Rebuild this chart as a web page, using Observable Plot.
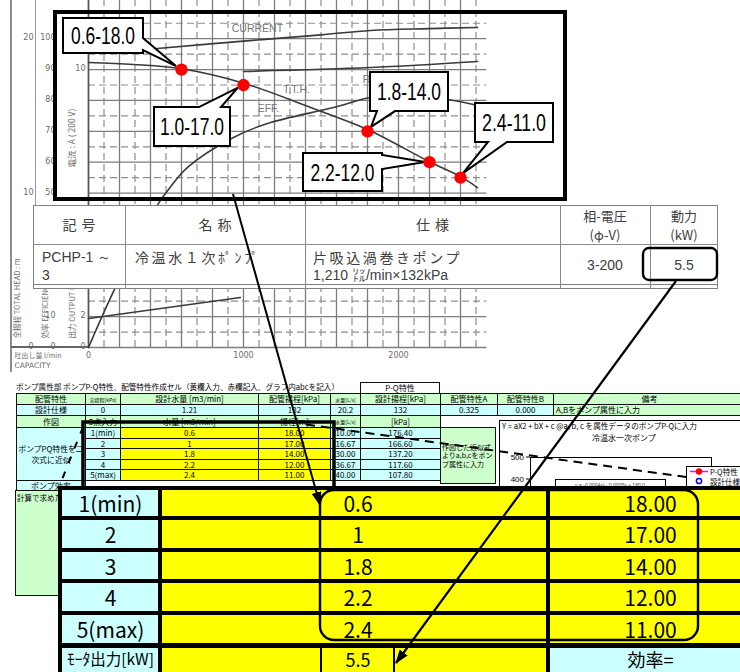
<!DOCTYPE html>
<html lang="ja"><head><meta charset="utf-8">
<script src="https://cdn.jsdelivr.net/npm/d3@7"></script>
<script src="https://cdn.jsdelivr.net/npm/@observablehq/plot@0.6"></script>
<style>
html,body{margin:0;padding:0;background:#fff;}
#root{position:relative;width:740px;height:672px;overflow:hidden;background:#fff;}
.cell{position:absolute;box-sizing:border-box;display:flex;overflow:hidden;}
.abs{position:absolute;left:0;top:0;}
</style></head><body><div id="root"></div>
<script>
// ================= DATA =================
// P-Q points marked on the pump curve (capacity m3/min, head m)
const pqFlow  = [0.6, 1.0, 1.8, 2.2, 2.4];
const pqHead  = [18.0, 17.0, 14.0, 12.0, 11.0];
const pqLabel = ["0.6-18.0","1.0-17.0","1.8-14.0","2.2-12.0","2.4-11.0"];

// scanned manufacturer curves (capacity m3/min, value in head-grid units)
const hqFlow = [0, 0.29, 0.6, 1.0, 1.45, 1.8, 2.2, 2.4, 2.51];
const hqHead = [18.46, 18.33, 18.05, 17.12, 15.48, 14.12, 12.03, 11.07, 10.36];
const currentFlow = [0.35, 0.445, 1.0, 1.5, 1.82, 2.2, 2.51];
const currentHead = [19.27, 19.37, 19.84, 20.25, 20.53, 20.65, 20.73];
const ratedFlow = [1.0, 1.82, 2.51];
const ratedHead = [17.88, 18.13, 18.52];
const effFlow = [0, 0.174, 0.452, 0.497, 0.639, 0.935, 1.155, 1.58, 1.82, 2.08, 2.32, 2.57];
const effHead = [0, 3.89, 9.33, 9.97, 11.66, 13.6, 14.51, 15.54, 16.19, 16.35, 16.06, 15.54];
const outputFlow = [0, 0.98];
const outputHead = [1.88, 3.24];

// grid & tick values
const gridFlowSolid = [0,0.2,0.4,0.6,0.8,1.0,1.2,1.4,1.6,1.8,2.0,2.2,2.4];
const gridFlowDash  = [0.1,0.3,0.5,0.7,0.9,1.1,1.3,1.5,1.7,1.9,2.1,2.3,2.5];
const gridHeadSolid = [0,2,4,6,8,10,12,14,16,18,20];
const gridHeadDash  = [1,3,5,7,9,11,13,15,17,19,21];
const headTickAt = [20,10,0];                 const headTickTxt = ["20","10","0"];
const effTickAt  = [20,18,16,14,12,10,2,0];   const effTickTxt  = ["100","90","80","70","60","50","10","0"];
const curTickAt  = [18,2,0];                  const curTickTxt  = ["10","2","0"];
const capTickAt  = [0,1,2];                   const capTickTxt  = ["0","1000","2000"];
const curveLabels   = ["CURRENT","T.T.H.","EFF.","R"];
const curveLabelQ   = [1.09, 1.342, 1.161, 1.794];
const curveLabelH   = [20.66, 16.71, 15.48, 17.36];

// pump schedule table
const ptHeader = ["記号","名称","仕様","相-電圧\n(φ-V)","動力\n(kW)"];
const ptRow    = ["PCHP-1 ～\n3","冷温水１次ﾎﾟﾝﾌﾟ","片吸込渦巻きポンプ","3-200","5.5"];
const ptSpec2  = "1,210 ㍑/min×132kPa";

// spreadsheet
const sheetTitle = "ポンプ属性部 ポンプP-Q特性、配管特性作成セル（黄欄入力、赤欄記入、グラフ内abcを記入）";
const shHeader = ["配管特性","実揚程[kPa]","設計水量 [m3/min]","配管揚程[kPa]","水量[L/s]","設計揚程[kPa]","配管特性A","配管特性B","備考"];
const shDesign = ["設計仕様","0","1.21","132","20.2","132","0.325","0.000","A,Bをポンプ属性に入力"];
const shPlotRow = ["作図","5点入力","水量 [m3/min]","揚程[m]","水量[L/s]","[kPa]"];
const shPointNo = ["1(min)","2","3","4","5(max)"];
const shFlowLs  = ["10.00","16.67","30.00","36.67","40.00"];
const shHeadKPa = ["176.40","166.60","137.20","117.60","107.80"];
const bigLabels = ["1(min)","2","3","4","5(max)","ﾓｰﾀ出力[kW]"];
const motorKW = "5.5";

// ================= LAYOUT =================
const root = document.getElementById("root");
const NS = "http://www.w3.org/2000/svg";
function div(x,y,w,h,style){const d=document.createElement("div");d.className="cell";
  Object.assign(d.style,{left:x+"px",top:y+"px",width:w+"px",height:h+"px"},style||{});root.appendChild(d);return d;}
function cell(x0,y0,x1,y1,text,o={}){
  const d=div(x0,y0,x1-x0+1,y1-y0+1,{background:o.bg||"transparent",border:o.border||"1px solid #111",
    fontSize:(o.fs||8)+"px",justifyContent:o.justify||"center",alignItems:o.align||"center",color:o.color||"#000",
    fontFamily:o.ff||'"Noto Sans CJK JP",sans-serif',letterSpacing:o.ls||"0",lineHeight:o.lh||"1",
    padding:o.pad||"0",whiteSpace:o.ws||"pre",textAlign:o.ta||"center",wordBreak:o.wb||"normal"});
  d.textContent=text??"";return d;}

// ---- scan decorations
div(9.5,0,2.5,372,{background:"#8c8c8c"});
div(35,0,1.2,205,{background:"#9a9a9a"});
div(11,346.4,77,1.3,{background:"#666"});

// ---- scanned pump curve drawn with Plot
const toXY=(qs,hs)=>qs.map((q,i)=>({q,h:hs[i]}));
const gS={stroke:"#7d7d7d",strokeWidth:1.3}, gD={stroke:"#8e8e8e",strokeWidth:1.2,strokeDasharray:"7,4"};
const cv={x:"q",y:"h",stroke:"#3a3a3a",strokeWidth:1.6,curve:"catmull-rom"};
const tx={fill:"#6b6b6b",fontFamily:"DejaVu Sans, sans-serif",fontSize:8};
const jp={fill:"#6b6b6b",fontFamily:"Noto Sans CJK JP, sans-serif",fontSize:7.5};
const scan = Plot.plot({
  width:740,height:372,marginTop:0,marginRight:0,marginBottom:0,marginLeft:0,
  x:{type:"linear",domain:[0,2.5],range:[88,475.5],axis:null},
  y:{type:"linear",domain:[0,20],range:[347,38.2],axis:null},
  style:{background:"transparent",overflow:"visible"},
  marks:[
    Plot.ruleX(gridFlowDash,{y1:0,y2:22.5,...gD}),
    Plot.ruleY(gridHeadDash,{x1:0,x2:2.57,...gD}),
    Plot.ruleX(gridFlowSolid,{y1:0,y2:22.5,...gS}),
    Plot.ruleY(gridHeadSolid,{x1:0,x2:2.57,...gS}),
    Plot.ruleX([0],{y1:0,y2:22.5,stroke:"#555",strokeWidth:1.6}),
    Plot.line(toXY(currentFlow,currentHead),cv),
    Plot.line(toXY(ratedFlow,ratedHead),cv),
    Plot.line(toXY(effFlow,effHead),cv),
    Plot.line(toXY(outputFlow,outputHead),cv),
    Plot.line(toXY(hqFlow,hqHead),cv),
    Plot.text(headTickTxt,{x:0,y:(d,i)=>headTickAt[i],dx:-55,dy:-1,textAnchor:"end",...tx}),
    Plot.text(effTickTxt,{x:0,y:(d,i)=>effTickAt[i],dx:-33,dy:-1,textAnchor:"end",...tx}),
    Plot.text(curTickTxt,{x:0,y:(d,i)=>curTickAt[i],dx:-3,dy:-1,textAnchor:"end",...tx}),
    Plot.text(capTickTxt,{x:(d,i)=>capTickAt[i],y:0,dy:8,...tx}),
    Plot.text(["吐出し量 l/min"],{x:0,y:0,dx:-74,dy:8,textAnchor:"start",...jp,fontSize:7}),
    Plot.text(["CAPACITY"],{x:0,y:0,dx:-74,dy:18,textAnchor:"start",...tx,fontSize:7.5}),
    Plot.text(["全揚程 TOTAL HEAD : m"],{x:0,y:0,dx:-71,dy:-9,rotate:-90,textAnchor:"start",...jp}),
    Plot.text(["効率 EFFICIENCY %"],{x:0,y:0,dx:-43,dy:-9,rotate:-90,textAnchor:"start",...jp}),
    Plot.text(["出力 OUTPUT kW"],{x:0,y:0,dx:-16,dy:-9,rotate:-90,textAnchor:"start",...jp}),
    Plot.text(["電流 : A ( 200 V)"],{x:0,y:11.66,dx:-16,rotate:-90,textAnchor:"start",...jp,fontSize:8.5}),
    Plot.text(curveLabels,{x:(d,i)=>curveLabelQ[i],y:(d,i)=>curveLabelH[i],fill:"#777",fontFamily:"Liberation Sans, Arial, sans-serif",fontSize:10.5}),
    Plot.dot(toXY(pqFlow,pqHead),{x:"q",y:"h",r:6.2,fill:"#ff0000"})
  ]
});
scan.style.position="absolute";scan.style.left="0";scan.style.top="0";
root.appendChild(scan);

// callouts anchored on the points (offsets in px relative to each point)
const calloutLayout=[
  {box:[-118,-51,-38,-16],edge:"right",a:[-31,-19],tip:[-5,-3]},
  {box:[-89,22.5,-13,61.5],edge:"top",a:[-44,-22],tip:[-5,3]},
  {box:[3,-58.8,81,-19.8],edge:"bottom",a:[10,28],tip:[4,-4]},
  {box:[-126,-8.7,-47,29.3],edge:"right",a:[-6.7,7.3],tip:[-4,0.3]},
  {box:[15,-74.2,93,-35.2],edge:"bottom",a:[28,47],tip:[3,-4]}
];
function calloutPath(x0,y0,x1,y1,edge,a1,a2,t){
  const p=[[x0,y0]];
  if(edge==="top")p.push([a1,y0],t,[a2,y0]);
  p.push([x1,y0]);
  if(edge==="right")p.push([x1,a1],t,[x1,a2]);
  p.push([x1,y1]);
  if(edge==="bottom")p.push([a2,y1],t,[a1,y1]);
  p.push([x0,y1]);
  return "M"+p.map(d=>d.join(",")).join("L")+"Z";
}
{
  const sx=scan.scale("x"),sy=scan.scale("y");
  const dotG=scan.querySelector('g[aria-label="dot"]');
  const g=document.createElementNS(NS,"g");
  pqFlow.forEach((q,i)=>{
    const px=sx.apply(q),py=sy.apply(pqHead[i]),L=calloutLayout[i];
    const x0=px+L.box[0],y0=py+L.box[1],x1=px+L.box[2],y1=py+L.box[3];
    const horiz=(L.edge==="top"||L.edge==="bottom");
    const a1=(horiz?px:py)+L.a[0],a2=(horiz?px:py)+L.a[1];
    const path=document.createElementNS(NS,"path");
    path.setAttribute("d",calloutPath(x0,y0,x1,y1,L.edge,a1,a2,[px+L.tip[0],py+L.tip[1]]));
    path.setAttribute("fill","#fff");path.setAttribute("stroke","#000");path.setAttribute("stroke-width","2");
    path.setAttribute("stroke-linejoin","miter");
    g.appendChild(path);
    const t=document.createElementNS(NS,"text");
    t.setAttribute("x",(x0+x1)/2);t.setAttribute("y",(y0+y1)/2+8.6);
    t.setAttribute("text-anchor","middle");
    t.setAttribute("font-family","Liberation Sans Narrow, Arial Narrow, Liberation Sans, Arial, sans-serif");
    t.setAttribute("font-size","24");t.setAttribute("fill","#000");
    t.setAttribute("textLength","64");t.setAttribute("lengthAdjust","spacingAndGlyphs");
    t.textContent=pqLabel[i];g.appendChild(t);
  });
  scan.insertBefore(g,dotG);
}
// thick frame around the curve
div(53,10,513.5,191,{border:"4px solid #000",boxSizing:"border-box"});

// ---- pump schedule table
const ptColX=[33,125,305,560,650,718], ptRowY=[205,244,287];
div(33,205,685,84,{background:"#fff",border:"1.3px solid #808080",boxSizing:"border-box"});
div(33,284,685,1.2,{background:"#808080"});
for(let c=1;c<ptColX.length-1;c++) div(ptColX[c],205,1.2,84,{background:"#8a8a8a"});
div(33,244,685,1.2,{background:"#8a8a8a"});
const ptTxt={color:"#404040",border:"none"};
ptHeader.forEach((h,c)=>{
  const cj=c<3;
  cell(ptColX[c],ptRowY[0],ptColX[c+1]-1,ptRowY[1]-1,h,{...ptTxt,fs:cj?14:13,ls:cj?"5px":"0",lh:"19px",pad:cj?"0 0 0 5px":"0"});
});
cell(ptColX[0],ptRowY[1],ptColX[1]-1,ptRowY[2]-2,ptRow[0],{...ptTxt,fs:14,ff:"Liberation Sans, Arial, sans-serif",justify:"flex-start",align:"flex-start",pad:"4px 0 0 9px",lh:"18px",ta:"left"});
cell(ptColX[1],ptRowY[1],ptColX[2]-1,ptRowY[2]-2,ptRow[1],{...ptTxt,fs:14,justify:"flex-start",align:"flex-start",pad:"4px 0 0 10px",lh:"18px",ls:"2.6px"});
{
  const d=cell(ptColX[2],ptRowY[1],ptColX[3]-1,ptRowY[2]-2,"",{...ptTxt,fs:14,justify:"flex-start",align:"flex-start",pad:"4px 0 0 8px",lh:"18px",ws:"normal",ta:"left"});
  d.style.flexDirection="column";
  const s1=document.createElement("div");s1.textContent=ptRow[2];s1.style.letterSpacing="2.6px";
  const s2=document.createElement("div");s2.textContent=ptSpec2;s2.style.fontFamily="Liberation Sans, Arial, 'Noto Sans CJK JP', sans-serif";
  d.appendChild(s1);d.appendChild(s2);
}
cell(ptColX[3],ptRowY[1],ptColX[4]-1,ptRowY[2]-2,ptRow[3],{...ptTxt,fs:14,ff:"Liberation Sans, Arial, sans-serif"});
cell(ptColX[4],ptRowY[1],ptColX[5]-1,ptRowY[2]-2,ptRow[4],{...ptTxt,fs:14,ff:"Liberation Sans, Arial, sans-serif"});

// ---- spreadsheet (upper)
const G="#ccffcc",C="#ccffff",Yl="#ffff00";
const shColX=[16,85,120,258,330,360,440,497,553,745];
const shRowY=[393,404,415,427,438,448,459,469,480,490];
cell(16,381,358,392,sheetTitle,{border:"none",fs:7.6,justify:"flex-start"});
cell(360,382,439,393,"P-Q特性",{bg:"#fff"});
shHeader.forEach((h,c)=>cell(shColX[c],shRowY[0],shColX[c+1],shRowY[1],h,{bg:G,fs:(c===1||c===4)?5:8}));
shDesign.forEach((h,c)=>cell(shColX[c],shRowY[1],shColX[c+1],shRowY[2],h,{bg:c===8?G:C,fs:8,justify:c===8?"flex-start":"center",pad:c===8?"0 0 0 2px":"0"}));
shPlotRow.forEach((h,c)=>cell(shColX[c],shRowY[2],shColX[c+1],shRowY[3],h,{bg:G,fs:(c===4)?5:8}));
cell(shColX[0],shRowY[3],shColX[1],shRowY[8],"ポンプPQ特性を二\n次式に近似",{bg:C,fs:7.8,lh:"11px"});
for(let r=0;r<5;r++){
  const y0=shRowY[3+r],y1=shRowY[4+r];
  cell(shColX[1],y0,shColX[2],y1,shPointNo[r],{bg:C});
  cell(shColX[2],y0,shColX[3],y1,String(pqFlow[r]),{bg:Yl});
  cell(shColX[3],y0,shColX[4],y1,pqHead[r].toFixed(2),{bg:Yl});
  cell(shColX[4],y0,shColX[5],y1,shFlowLs[r],{bg:C});
  cell(shColX[5],y0,shColX[6],y1,shHeadKPa[r],{bg:C});
}
cell(shColX[6],shRowY[3],shColX[7]-2,483,"作図した近似式よりa,b,cをポンプ属性に入力",{bg:G,fs:7,ws:"normal",ta:"left",justify:"flex-start",lh:"8.6px",pad:"0 1px",wb:"break-all"});
cell(shColX[0],shRowY[8],shColX[1],shRowY[9],"ポンプ効率",{bg:C});
cell(15,490,72,595,"計算で求めた",{bg:G,fs:7.5,justify:"flex-start",align:"flex-start",pad:"3px 0 0 1px",border:"1.5px solid #111"});

// ---- inset excel chart
{
  const s=d3.select(root).append("svg").attr("class","abs").attr("width",740).attr("height",672).style("position","absolute");
  s.append("rect").attr("x",499.5).attr("y",420.5).attr("width",260).attr("height",90).attr("fill","#fff").attr("stroke","#000");
  s.append("text").attr("x",502).attr("y",429).attr("font-size",7.6).attr("font-family","Noto Sans CJK JP").text("Y = aX2 + bX + c  @a, b, c を属性データのポンプP-Qに入力");
  s.append("text").attr("x",624).attr("y",441).attr("text-anchor","middle").attr("font-size",8).attr("font-family","Noto Sans CJK JP").text("冷温水一次ポンプ");
  s.append("rect").attr("x",530.5).attr("y",457.5).attr("width",181).attr("height",50).attr("fill","#fff").attr("stroke","#000");
  s.append("rect").attr("x",555.5).attr("y",479.5).attr("width",110).attr("height",30).attr("fill","#fff").attr("stroke","#000");
  s.append("text").attr("x",610).attr("y",487).attr("text-anchor","middle").attr("font-size",5).attr("fill","#444").attr("font-family","Liberation Sans").text("y = -0.0004x² - 0.0005x + 180.0");
  [["500",460],["400",482]].forEach(([t,y])=>{
    s.append("text").attr("x",524).attr("y",y).attr("text-anchor","end").attr("font-size",8).attr("font-family","Liberation Sans").text(t);
    s.append("line").attr("x1",526).attr("x2",530).attr("y1",y-3).attr("y2",y-3).attr("stroke","#000");
  });
  s.append("rect").attr("x",686.5).attr("y",466.5).attr("width",60).attr("height",30).attr("fill","#fff").attr("stroke","#000");
  s.append("line").attr("x1",690).attr("x2",708).attr("y1",471.5).attr("y2",471.5).attr("stroke","#ff00ff").attr("stroke-width",1.5);
  s.append("circle").attr("cx",699).attr("cy",471.5).attr("r",3.2).attr("fill","#ff0000");
  s.append("text").attr("x",710).attr("y",474.5).attr("font-size",7.5).attr("font-family","Noto Sans CJK JP").text("P-Q特性");
  s.append("circle").attr("cx",699).attr("cy",481).attr("r",2.6).attr("fill","#fff").attr("stroke","#0000ff").attr("stroke-width",1.5);
  s.append("text").attr("x",710).attr("y",484.5).attr("font-size",7.5).attr("font-family","Noto Sans CJK JP").text("設計仕様");
}

// ---- big zoomed table
const bigColX=[60,160,320,395,548,752], bigRowY=[488,518,550,581,613,645,671];
const bf='"Noto Sans CJK JP",sans-serif';
for(let r=0;r<6;r++){
  const y0=bigRowY[r],y1=bigRowY[r+1];
  const last=r===5;
  cell(bigColX[0],y0,bigColX[1],y1,bigLabels[r],{bg:C,border:"none",fs:last?15.5:21,ff:bf});
  cell(bigColX[1],y0,bigColX[2],y1,"",{bg:Yl,border:"none"});
  cell(bigColX[2],y0,bigColX[3],y1,r<5?String(pqFlow[r]):motorKW,{bg:Yl,border:"none",fs:last?18:21,ff:bf});
  cell(bigColX[3],y0,bigColX[4],y1,"",{bg:Yl,border:"none"});
  cell(bigColX[4],y0,bigColX[5],y1,r<5?pqHead[r].toFixed(2):"効率=",{bg:r<5?Yl:C,border:"none",fs:last?18:21,ff:bf});
}
for(let r=0;r<6;r++){const th=r===5?5:3.2;div(58,bigRowY[r]-th/2,700,th,{background:"#000"});}
[60,160,548].forEach(x=>div(x-2,486,4,190,{background:"#000"}));
[321,394].forEach(x=>div(x-1,646,2.2,30,{background:"#000"}));

// ---- annotation overlay (arrows, highlight frames)
{
  const s=d3.select(root).append("svg").attr("class","abs").attr("width",740).attr("height",672).style("position","absolute");
  const m=s.append("defs").append("marker").attr("id","ah").attr("viewBox","0 0 14 10").attr("refX",13).attr("refY",5)
    .attr("markerWidth",14).attr("markerHeight",10).attr("markerUnits","userSpaceOnUse").attr("orient","auto");
  m.append("path").attr("d","M0,0L14,5L0,10Z").attr("fill","#000");
  s.append("path").attr("d","M83,489L83,422L334,422L334,489").attr("fill","none").attr("stroke","#000").attr("stroke-width",3.5);
  s.append("line").attr("x1",306).attr("y1",424.5).attr("x2",686).attr("y2",477).attr("stroke","#000").attr("stroke-width",2).attr("stroke-dasharray","9,6");
  s.append("line").attr("x1",83).attr("y1",427).attr("x2",59).attr("y2",487).attr("stroke","#000").attr("stroke-width",2).attr("stroke-dasharray","7,9");
  s.append("rect").attr("x",320).attr("y",490).attr("width",378).attr("height",150).attr("rx",14).attr("fill","none").attr("stroke","#000").attr("stroke-width",2.4);
  s.append("rect").attr("x",643).attr("y",248).attr("width",74).attr("height",32).attr("rx",6).attr("fill","none").attr("stroke","#000").attr("stroke-width",2.4);
  s.append("line").attr("x1",233).attr("y1",194).attr("x2",320).attr("y2",505).attr("stroke","#000").attr("stroke-width",2).attr("marker-end","url(#ah)");
  s.append("line").attr("x1",676).attr("y1",281).attr("x2",396).attr("y2",663).attr("stroke","#000").attr("stroke-width",2.2).attr("marker-end","url(#ah)");
}
</script></body></html>
